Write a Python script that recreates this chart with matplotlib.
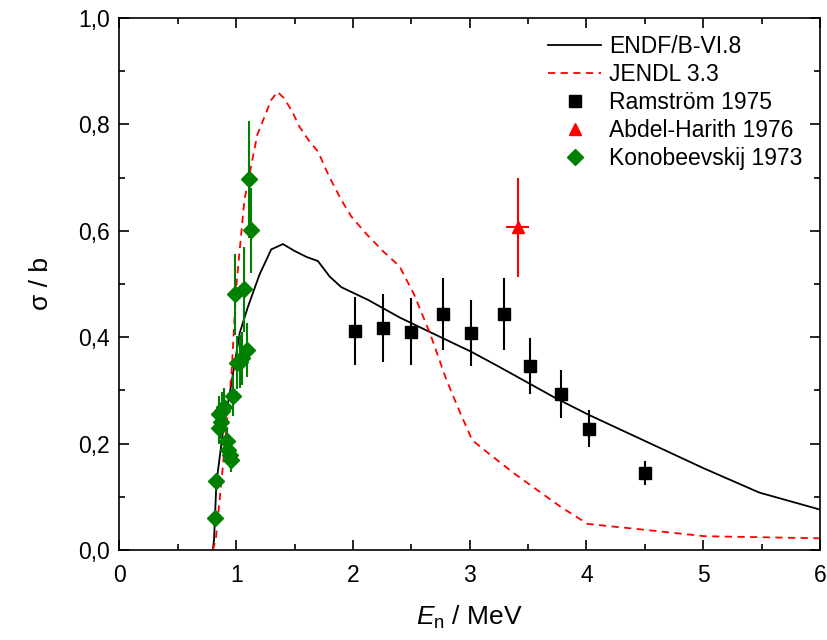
import numpy as np
import matplotlib
matplotlib.use("Agg")
import matplotlib.pyplot as plt
from matplotlib.ticker import MultipleLocator, FuncFormatter
from matplotlib.lines import Line2D

plt.rcParams['font.family'] = ['Liberation Sans', 'DejaVu Sans']
plt.rcParams['mathtext.fontset'] = 'custom'
plt.rcParams['mathtext.rm'] = 'Liberation Sans'
plt.rcParams['mathtext.it'] = 'Liberation Sans:italic'

# ---------- data ----------
# ENDF/B-VI.8 evaluation
endf_e = [0.80, 0.81, 0.83, 0.885, 0.945, 1.03, 1.10, 1.20, 1.30, 1.40, 1.50, 1.60,
          1.70, 1.80, 1.90, 2.13, 2.40, 2.77, 3.01, 3.23, 3.51, 3.74, 4.02, 4.51,
          5.00, 5.48, 6.00]
endf_s = [0.0, 0.02, 0.126, 0.22, 0.295, 0.408, 0.457, 0.518, 0.565, 0.575, 0.562, 0.551,
          0.543, 0.514, 0.494, 0.47, 0.437, 0.398, 0.373, 0.347, 0.313, 0.285, 0.254, 0.204,
          0.154, 0.108, 0.076]

# JENDL 3.3 evaluation
jendl_e = [0.80, 0.825, 0.885, 0.96, 1.00, 1.07, 1.18, 1.30, 1.354, 1.41, 1.48, 1.54,
           1.63, 1.70, 1.80, 1.90, 1.985, 2.11, 2.26, 2.40, 2.46, 2.52, 2.66, 2.80,
           2.92, 3.02, 3.09, 3.38, 3.78, 4.01, 4.50, 5.01, 5.50, 6.00]
jendl_s = [0.0, 0.02, 0.156, 0.333, 0.494, 0.658, 0.78, 0.846, 0.861, 0.849, 0.824, 0.796,
           0.767, 0.749, 0.70, 0.658, 0.627, 0.595, 0.561, 0.533, 0.507, 0.482, 0.407, 0.32,
           0.257, 0.207, 0.194, 0.144, 0.081, 0.049, 0.038, 0.026, 0.024, 0.022]

# Ramström 1975
ram_e = [2.02, 2.26, 2.50, 2.77, 3.01, 3.29, 3.52, 3.78, 4.02, 4.50]
ram_s = [0.412, 0.418, 0.410, 0.444, 0.408, 0.444, 0.346, 0.293, 0.228, 0.145]
ram_ds = [0.064, 0.064, 0.063, 0.068, 0.062, 0.068, 0.053, 0.045, 0.035, 0.023]

# Abdel-Harith 1976
ah_e = [3.41]
ah_s = [0.607]
ah_ds = [0.093]
ah_de = [0.10]

# Konobeevskij 1973
kon_e = [0.817, 0.831, 0.850, 0.851, 0.870, 0.880, 0.897, 0.917, 0.930, 0.945,
         0.953, 0.974, 0.990, 1.010, 1.030, 1.050, 1.067, 1.090, 1.108, 1.125]
kon_s = [0.060, 0.130, 0.229, 0.255, 0.241, 0.262, 0.269, 0.204, 0.188, 0.178,
         0.169, 0.290, 0.481, 0.352, 0.354, 0.360, 0.490, 0.376, 0.697, 0.601]
kon_ds = [0.006, 0.012, 0.030, 0.035, 0.032, 0.035, 0.036, 0.028, 0.025, 0.024,
          0.022, 0.038, 0.076, 0.050, 0.050, 0.050, 0.080, 0.050, 0.110, 0.080]

green = '#008000'

# ---------- figure ----------
fig = plt.figure(figsize=(8.28, 6.4), dpi=100)
ax = fig.add_axes([0.1443, 0.1406, 0.8460, 0.8314])

ax.plot(endf_e, endf_s, color='black', lw=1.3)
ax.plot(jendl_e, jendl_s, color='red', lw=1.3, ls=(0, (4, 3)))
ax.errorbar(ram_e, ram_s, yerr=ram_ds, fmt='s', color='black', ms=8,
            elinewidth=1.5, capsize=0)
ax.errorbar(ah_e, ah_s, yerr=ah_ds, xerr=ah_de, fmt='^', color='red', ms=9,
            elinewidth=1.5, capsize=0)
ax.errorbar(kon_e, kon_s, yerr=kon_ds, fmt='D', color=green, ms=8.5,
            elinewidth=1.5, capsize=0)

ax.set_xlim(0, 6)
ax.set_ylim(0, 1.0)
ax.xaxis.set_major_locator(MultipleLocator(1))
ax.xaxis.set_minor_locator(MultipleLocator(0.5))
ax.yaxis.set_major_locator(MultipleLocator(0.2))
ax.yaxis.set_minor_locator(MultipleLocator(0.1))
ax.yaxis.set_major_formatter(FuncFormatter(lambda v, p: f'{v:.1f}'.replace('.', ',')))
ax.tick_params(which='both', direction='in', top=True, right=True, labelsize=16.5, width=1.2)
ax.tick_params(which='major', length=7)
ax.tick_params(which='minor', length=4)
ax.tick_params(axis='x', which='major', pad=10)
ax.tick_params(axis='y', which='major', pad=7)
for s in ax.spines.values():
    s.set_linewidth(1.2)

ax.set_xlabel(r'$E_\mathrm{n}$ / MeV', fontsize=19, labelpad=12)
ax.set_ylabel('σ / b', fontsize=19, labelpad=18)

# legend with plain markers (no error bars)
handles = [
    Line2D([], [], color='black', lw=1.3),
    Line2D([], [], color='red', lw=1.3, ls=(0, (4, 3))),
    Line2D([], [], ls='none', marker='s', color='black', ms=8),
    Line2D([], [], ls='none', marker='^', color='red', ms=9),
    Line2D([], [], ls='none', marker='D', color=green, ms=8.5),
]
labels = ['ENDF/B-VI.8', 'JENDL 3.3', 'Ramström 1975', 'Abdel-Harith 1976', 'Konobeevskij 1973']
ax.legend(handles, labels, loc='upper left', frameon=False, fontsize=16.5,
          handlelength=2.3, handletextpad=0.35, labelspacing=0.22,
          borderpad=0, borderaxespad=0, bbox_to_anchor=(0.612, 0.9675))

fig.savefig('out.png', dpi=100)
